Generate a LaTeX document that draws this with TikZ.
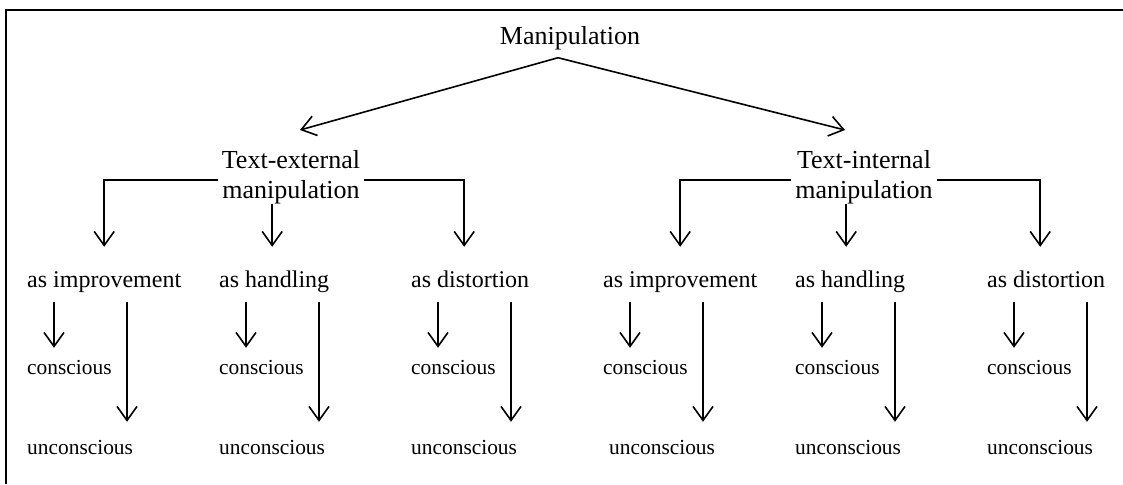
\documentclass[tikz,border=0pt]{standalone}
\usepackage{fontspec}
\setmainfont{Liberation Serif}
\usetikzlibrary{arrows.meta}
\begin{document}
\begin{tikzpicture}[x=1pt,y=-1pt,
  every node/.style={inner sep=0pt},
  arr/.style={line width=1.6pt,-{Straight Barb[length=14pt,width=20pt]}},
  rootlabel/.style={font=\fontsize{26}{30}\selectfont, anchor=base},
  grouplabel/.style={font=\fontsize{26}{30}\selectfont, align=center, inner xsep=4pt},
  kindlabel/.style={font=\fontsize{24}{28}\selectfont, anchor=base west, text height=17pt, text depth=5pt},
  leaflabel/.style={font=\fontsize{21.4}{25}\selectfont, anchor=base west, text height=15pt, text depth=5pt},
]
\useasboundingbox (0,0) rectangle (1123,484);

% frame: top and left rules only
\draw[line width=2pt] (6,484) -- (6,10) -- (1123,10);

% root and the two groups
\node[rootlabel] (m) at (570,45) {Manipulation};
\node[grouplabel] (te) at (291,177) {Text-external\\manipulation};
\node[grouplabel] (ti) at (864,177) {Text-internal\\manipulation};

\coordinate (apex) at ([xshift=-12pt,yshift=-7pt]m.south);
\draw[arr] (apex) -- ([xshift=9pt,yshift=20pt]te.north);
\draw[arr] (apex) -- ([xshift=-19pt,yshift=20pt]ti.north);

% kinds of manipulation
\foreach \n/\x/\t in {k1/27/as improvement, k2/219/as handling, k3/411/as distortion,
                      k4/603/as improvement, k5/795/as handling, k6/987/as distortion}
  \node[kindlabel] (\n) at (\x,287) {\t};

% conscious / unconscious leaves
\foreach \n/\x in {1/27, 2/219, 3/411, 4/603, 5/795, 6/987}
  \node[leaflabel] (c\n) at (\x,374) {conscious};
\foreach \n/\x in {1/27, 2/219, 3/411, 4/609, 5/795, 6/987}
  \node[leaflabel] (u\n) at (\x,454) {unconscious};

% entry points of the middle arrows
\coordinate (k2top) at ([xshift=-2pt]k2.north);
\coordinate (k5top) at ([xshift=-4pt]k5.north);

% brackets from each group to its three kinds
\draw[arr, shorten >=23pt] ([yshift=-3pt]te.west) -| (k1.north);
\draw[arr, shorten >=23pt] ([yshift=-3pt]te.east) -| ([xshift=-6pt]k3.north);
\draw[arr, shorten >=23pt] (te.south -| k2top) -- (k2top);
\draw[arr, shorten >=23pt] ([yshift=-3pt]ti.west) -| (k4.north);
\draw[arr, shorten >=23pt] ([yshift=-3pt]ti.east) -| ([xshift=-6pt]k6.north);
\draw[arr, shorten >=23pt] (ti.south -| k5top) -- (k5top);

% each kind splits into conscious and unconscious
\foreach \i in {1,...,6} {
  \draw[arr, shorten <=10pt, shorten >=11pt]
    ([xshift=27pt]k\i.south west) -- ([xshift=27pt]k\i.south west |- c\i.north);
  \draw[arr, shorten <=10pt, shorten >=17pt]
    ([xshift=100pt]k\i.south west) -- ([xshift=100pt]k\i.south west |- u\i.north);
}
\end{tikzpicture}
\end{document}
